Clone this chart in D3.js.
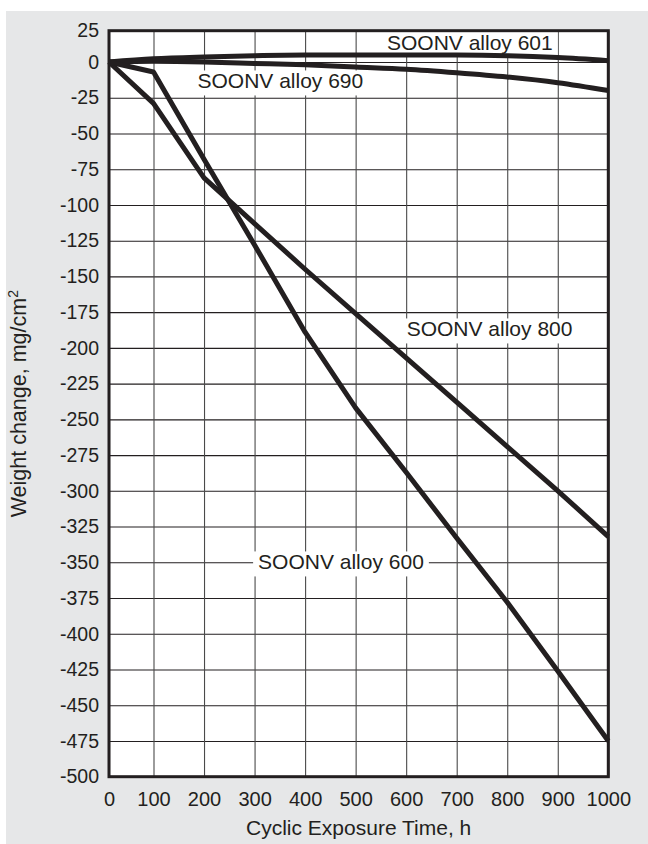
<!DOCTYPE html>
<html>
<head>
<meta charset="utf-8">
<script src="https://cdn.jsdelivr.net/npm/d3@7"></script>
<style>
  body { margin: 0; background: #fff; }
  svg { display: block; }
  text { font-family: "Liberation Sans", Arial, Helvetica, sans-serif; fill: #231f20; }
</style>
</head>
<body>
<div id="chart"></div>
<script>
// exposure time (h) and weight change (mg/cm2)
const hours = [0, 100, 200, 300, 400, 500, 600, 700, 800, 900, 1000];
const alloy601 = [0, 2.5, 4, 5, 5.5, 5.5, 5.5, 5.5, 5, 3.5, 1];
const alloy690 = [0, 0.5, 0, -1, -2, -3.5, -5, -7.5, -10.5, -14.5, -20];
const alloy800 = [0, -29, -81, -113, -145, -176, -207, -238, -269, -300, -332];
const alloy600 = [0, -7, -68, -128, -189, -242, -287, -333, -378, -426, -475];

const xTicks = [0, 100, 200, 300, 400, 500, 600, 700, 800, 900, 1000];
const yTicks = [25, 0, -25, -50, -75, -100, -125, -150, -175, -200, -225, -250,
    -275, -300, -325, -350, -375, -400, -425, -450, -475, -500];

const series = [
    { name: "SOONV alloy 601", values: alloy601, smooth: true },
    { name: "SOONV alloy 690", values: alloy690, smooth: true },
    { name: "SOONV alloy 800", values: alloy800, smooth: false },
    { name: "SOONV alloy 600", values: alloy600, smooth: false }
];

// where each label starts, in data units (hour, mg/cm2 at baseline)
const labelSpots = [
    { text: "SOONV alloy 601", hour: 562, value: 9.6 },
    { text: "SOONV alloy 690", hour: 187, value: -18.5 },
    { text: "SOONV alloy 800", hour: 601, value: -192 },
    { text: "SOONV alloy 600", hour: 307, value: -355 }
];

const W = 648, H = 844;
const plot = { left: 109, right: 608.3, top: 30.7, bottom: 776.7 };

const svg = d3.select("#chart").append("svg")
    .attr("width", W)
    .attr("height", H);

// grey panel
svg.append("rect")
    .attr("x", 6).attr("y", 11)
    .attr("width", W - 6).attr("height", H - 11)
    .attr("fill", "#e6e7e8");

// the printed grid is not quite even in the first step, so the scales are piecewise
const x = d3.scaleLinear()
    .domain([0, 100, 1000])
    .range([plot.left, 153.5, plot.right]);

const y = d3.scaleLinear()
    .domain([-500, 0, 25])
    .range([plot.bottom, 62, plot.top]);

const pw = plot.right - plot.left;
const ph = plot.bottom - plot.top;

svg.append("rect")
    .attr("x", plot.left).attr("y", plot.top)
    .attr("width", pw).attr("height", ph)
    .attr("fill", "#fff");

// plain hyphen and no thousands comma, as printed
const plain = d => String(d);

// y grid + labels
const yAxis = svg.append("g")
    .attr("transform", `translate(${plot.left},0)`)
    .call(d3.axisLeft(y).tickValues(yTicks).tickFormat(plain).tickSize(-pw).tickPadding(10));
yAxis.select(".domain").remove();
yAxis.selectAll("line").attr("stroke", "#231f20").attr("stroke-width", 1.1);
yAxis.selectAll("text")
    .style("font-size", "19.5px")
    .style("font-family", "'Liberation Sans', Arial, sans-serif")
    .attr("fill", "#231f20");

// x grid + labels
const xAxis = svg.append("g")
    .attr("transform", `translate(0,${plot.bottom})`)
    .call(d3.axisBottom(x).tickValues(xTicks).tickFormat(plain).tickSize(-ph).tickPadding(15));
xAxis.select(".domain").remove();
xAxis.selectAll("line").attr("stroke", "#4a4a4a").attr("stroke-width", 1.1);
xAxis.selectAll("text")
    .style("font-size", "20px")
    .style("font-family", "'Liberation Sans', Arial, sans-serif")
    .attr("fill", "#231f20");

// curve labels sit on white boxes that cut the grid
labelSpots.forEach(d => {
    const g = svg.append("g");
    const t = g.append("text")
        .attr("x", x(d.hour))
        .attr("y", y(d.value))
        .style("font-size", "21px")
        .text(d.text);
    const b = t.node().getBBox();
    g.insert("rect", "text")
        .attr("x", b.x - 5)
        .attr("y", b.y + 1)
        .attr("width", b.width + 10)
        .attr("height", b.height + 2)
        .attr("fill", "#fff");
});

const lineStraight = d3.line()
    .x((d, i) => x(hours[i]))
    .y(d => y(d));
const lineSmooth = d3.line()
    .x((d, i) => x(hours[i]))
    .y(d => y(d))
    .curve(d3.curveMonotoneX);

svg.selectAll(".series")
    .data(series)
    .enter()
    .append("path")
    .attr("class", "series")
    .attr("d", d => (d.smooth ? lineSmooth : lineStraight)(d.values))
    .attr("fill", "none")
    .attr("stroke", "#231f20")
    .attr("stroke-width", 5)
    .attr("stroke-linejoin", "round");

// frame
svg.append("rect")
    .attr("x", plot.left).attr("y", plot.top)
    .attr("width", pw).attr("height", ph)
    .attr("fill", "none")
    .attr("stroke", "#231f20")
    .attr("stroke-width", 3);

// axis titles
svg.append("text")
    .attr("x", (plot.left + plot.right) / 2)
    .attr("y", 835)
    .attr("text-anchor", "middle")
    .style("font-size", "21px")
    .text("Cyclic Exposure Time, h");

const yTitle = svg.append("text")
    .attr("transform", `translate(26,${(plot.top + plot.bottom) / 2}) rotate(-90)`)
    .attr("text-anchor", "middle")
    .style("font-size", "21.5px");
yTitle.append("tspan").text("Weight change, mg/cm");
yTitle.append("tspan")
    .attr("baseline-shift", "super")
    .style("font-size", "14px")
    .text("2");
</script>
</body>
</html>
